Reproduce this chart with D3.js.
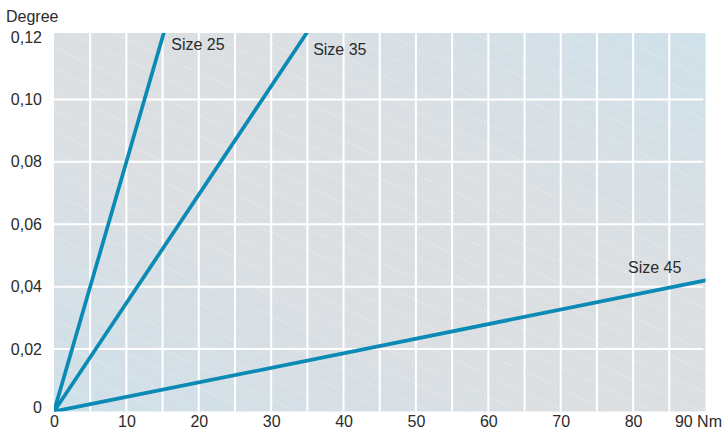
<!DOCTYPE html>
<html>
<head>
<meta charset="utf-8">
<script src="https://cdn.jsdelivr.net/npm/d3@7"></script>
<style>
  body { margin: 0; background: #fff; }
  text { font-family: "Liberation Sans", Arial, sans-serif; fill: #2b2b2b; }
</style>
</head>
<body>
<svg width="726" height="435"></svg>
<script>
// data (torsion in degree against torque in Nm)
var sizes = ["Size 25", "Size 35", "Size 45"];
var torqueEnd = [15.2, 35, 90];
var degreeEnd = [0.1216, 0.1216, 0.042];
var labelTorque = [16.2, 35.8, 79.3];
var labelDegree = [0.1158, 0.1142, 0.0444];
var xTicks = [0, 10, 20, 30, 40, 50, 60, 70, 80, 90];
var yTicks = [0, 0.02, 0.04, 0.06, 0.08, 0.10, 0.12];
var xGrid = [5, 10, 15, 20, 25, 30, 35, 40, 45, 50, 55, 60, 65, 70, 75, 80, 85];
var yGrid = [0.02, 0.04, 0.06, 0.08, 0.10];

var svg = d3.select("svg");

var x = d3.scaleLinear().domain([0, 90]).range([54, 705.5]);
var y = d3.scaleLinear().domain([0, 0.12]).range([411.5, 37]);
var yTop = y.invert(33);

var defs = svg.append("defs");

// background gradient: bluish corners bottom-left / top-right, grey across the middle
var grad = defs.append("linearGradient")
    .attr("id", "bg")
    .attr("x1", 0).attr("y1", 1)
    .attr("x2", 1).attr("y2", 0);
grad.append("stop").attr("offset", 0).attr("stop-color", "#cfe0e9");
grad.append("stop").attr("offset", 0.4).attr("stop-color", "#dcdfe2");
grad.append("stop").attr("offset", 0.6).attr("stop-color", "#dcdfe2");
grad.append("stop").attr("offset", 1).attr("stop-color", "#cfe1ea");

// faint dashed diagonal stripes
var pat = defs.append("pattern")
    .attr("id", "stripes")
    .attr("patternUnits", "userSpaceOnUse")
    .attr("width", 40).attr("height", 19)
    .attr("patternTransform", "rotate(25)");
pat.append("line")
    .attr("x1", 0).attr("y1", 1).attr("x2", 40).attr("y2", 1)
    .attr("stroke", "#fff")
    .attr("stroke-opacity", 0.4)
    .attr("stroke-width", 0.8)
    .attr("stroke-dasharray", "3,2");

defs.append("clipPath").attr("id", "plotclip")
    .append("rect")
    .attr("x", x(0)).attr("y", y(yTop))
    .attr("width", x(90) - x(0)).attr("height", y(0) - y(yTop));

var plot = svg.append("g");

plot.append("rect")
    .attr("x", x(0)).attr("y", y(yTop))
    .attr("width", x(90) - x(0)).attr("height", y(0) - y(yTop))
    .attr("fill", "url(#bg)");
plot.append("rect")
    .attr("x", x(0)).attr("y", y(yTop))
    .attr("width", x(90) - x(0)).attr("height", y(0) - y(yTop))
    .attr("fill", "url(#stripes)");

// grid
plot.selectAll(".vgrid")
    .data(xGrid)
    .enter()
    .append("line")
    .attr("x1", d => x(d)).attr("x2", d => x(d))
    .attr("y1", y(yTop)).attr("y2", y(0))
    .attr("stroke", "#fff")
    .attr("stroke-width", 2);

plot.selectAll(".hgrid")
    .data(yGrid)
    .enter()
    .append("line")
    .attr("x1", x(0)).attr("x2", x(89.7))
    .attr("y1", d => y(d)).attr("y2", d => y(d))
    .attr("stroke", "#fff")
    .attr("stroke-width", 2);

// lines
var line = d3.line().x(d => x(d[0])).y(d => y(d[1]));

plot.append("g")
    .attr("clip-path", "url(#plotclip)")
    .selectAll("path")
    .data(sizes.map((s, i) => [[0, 0], [torqueEnd[i], degreeEnd[i]]]))
    .enter()
    .append("path")
    .attr("d", line)
    .attr("fill", "none")
    .attr("stroke", "#0a8ab5")
    .attr("stroke-width", 3.7)
    .attr("stroke-linecap", "round");

// series labels
plot.selectAll(".lab")
    .data(sizes)
    .enter()
    .append("text")
    .attr("x", (d, i) => x(labelTorque[i]))
    .attr("y", (d, i) => y(labelDegree[i]))
    .attr("font-size", 16)
    .text(d => d);

// axes
var yAxis = svg.append("g")
    .attr("transform", "translate(" + x(0) + ",0)")
    .call(d3.axisLeft(y)
        .tickValues(yTicks)
        .tickSize(0)
        .tickPadding(12)
        .tickFormat(d => d === 0 ? "0" : d3.format(".2f")(d).replace(".", ",")));
yAxis.select(".domain").remove();
yAxis.selectAll("text")
    .attr("font-size", 16)
    .attr("font-family", null)
    .attr("fill", "#2b2b2b")
    .attr("dy", d => d === 0 ? "0.07em" : "0.32em");

var xAxis = svg.append("g")
    .attr("transform", "translate(0," + y(0) + ")")
    .call(d3.axisBottom(x)
        .tickValues(xTicks)
        .tickSize(0)
        .tickPadding(4)
        .tickFormat(d => d === 90 ? "90 Nm" : d));
xAxis.select(".domain").remove();
xAxis.selectAll("text")
    .attr("font-size", 16)
    .attr("font-family", null)
    .attr("fill", "#2b2b2b")
    .attr("dy", "0.71em");
xAxis.selectAll("text")
    .filter(d => d === 90)
    .attr("text-anchor", "end")
    .attr("dx", 16);

svg.append("text")
    .attr("x", 6)
    .attr("y", 22)
    .attr("font-size", 16)
    .text("Degree");
</script>
</body>
</html>
